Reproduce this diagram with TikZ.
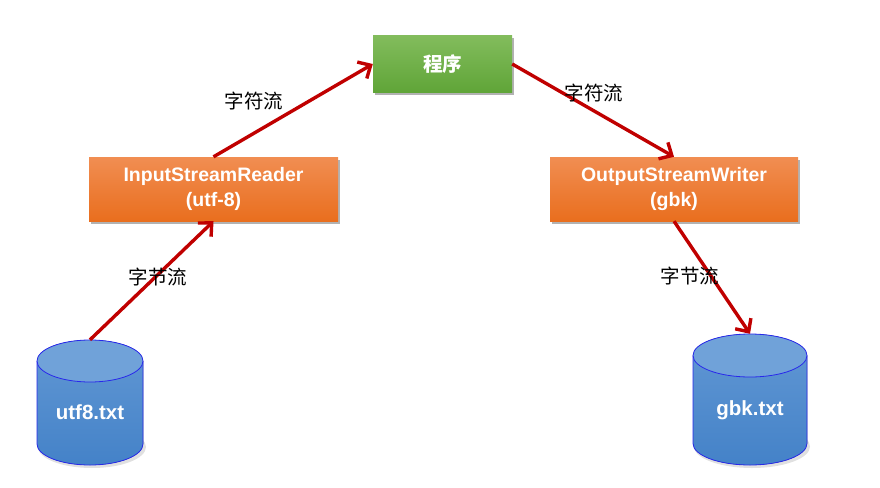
\documentclass[tikz,border=0pt]{standalone}
\usepackage{fontspec}
\setmainfont{Liberation Sans}
\newfontfamily\cjk{Noto Sans CJK SC}
\usetikzlibrary{arrows.meta,shadows}
\definecolor{grTop}{RGB}{130,188,92}
\definecolor{grBot}{RGB}{96,165,56}
\definecolor{orTop}{RGB}{241,142,82}
\definecolor{orBot}{RGB}{233,110,30}
\definecolor{cyLid}{RGB}{112,162,217}
\definecolor{cyTop}{RGB}{98,152,212}
\definecolor{cyBot}{RGB}{68,130,200}
\definecolor{cyEdge}{RGB}{40,40,235}
\definecolor{arrRed}{RGB}{192,0,0}
\begin{document}
\begin{tikzpicture}[x=1pt,y=-1pt,
  boxbase/.style={inner sep=0pt, text=white, align=center,
    font=\fontsize{19.5}{25}\selectfont\bfseries,
    drop shadow={shadow xshift=1.5pt, shadow yshift=-2.5pt, opacity=0.3, fill=black}},
  greenbox/.style={boxbase, top color=grTop, bottom color=grBot},
  orangebox/.style={boxbase, top color=orTop, bottom color=orBot},
  dbtext/.style={text=white, font=\fontsize{20.5}{24}\selectfont\bfseries, inner sep=0pt},
  dbframe/.style={inner sep=0pt},
  flow/.style={draw=arrRed, line width=3.4pt, -{Straight Barb[length=10pt,width=19pt]}},
  flowlabel/.style={font=\cjk\fontsize{19.5}{22}\selectfont, text=black, inner sep=0pt}
]
\useasboundingbox (0,0) rectangle (880,487);

% boxes
\node[greenbox, minimum width=139pt, minimum height=56pt] (prog) at (442.5,64) {\cjk\bfseries 程序};
\node[orangebox, minimum width=249pt, minimum height=64pt] (isr) at (213.5,189) {InputStreamReader\\(utf-8)};
\node[orangebox, minimum width=248pt, minimum height=64pt] (osw) at (674,189) {OutputStreamWriter\\(gbk)};

% cylinder 1
\fill[black, opacity=0.12] (92,447) ellipse[x radius=54, y radius=21];
\fill[top color=cyTop, bottom color=cyBot] (37,361) -- (37,444)
  arc[start angle=180, end angle=0, x radius=53, y radius=21] -- (143,361)
  arc[start angle=0, end angle=-180, x radius=53, y radius=21] -- cycle;
\draw[cyEdge, line width=0.8pt] (37,361) -- (37,444)
  arc[start angle=180, end angle=0, x radius=53, y radius=21] -- (143,361);
\filldraw[fill=cyLid, draw=cyEdge, line width=0.8pt] (90,361) ellipse[x radius=53, y radius=21];
\node[dbframe, minimum width=106pt, minimum height=125pt] (db1) at (90,402.5) {};
\node[dbtext] (t1) at (90,412) {utf8.txt};

% cylinder 2
\fill[black, opacity=0.12] (752,446.5) ellipse[x radius=58, y radius=21.5];
\fill[top color=cyTop, bottom color=cyBot] (693,355.5) -- (693,443.5)
  arc[start angle=180, end angle=0, x radius=57, y radius=21.5] -- (807,355.5)
  arc[start angle=0, end angle=-180, x radius=57, y radius=21.5] -- cycle;
\draw[cyEdge, line width=0.8pt] (693,355.5) -- (693,443.5)
  arc[start angle=180, end angle=0, x radius=57, y radius=21.5] -- (807,355.5);
\filldraw[fill=cyLid, draw=cyEdge, line width=0.8pt] (750,355.5) ellipse[x radius=57, y radius=21.5];
\node[dbframe, minimum width=114pt, minimum height=131pt] (db2) at (750,399.5) {};
\node[dbtext] (t2) at (750,410) {gbk.txt};

% arrows
\draw[flow] (db1.north) -- (isr.south);
\draw[flow] (isr.north) -- (prog.west);
\draw[flow] (prog.east) -- (osw.north);
\draw[flow] (osw.south) -- (db2.north);

% labels
\node[flowlabel] (l1) at (254,101) {字符流};
\node[flowlabel] (l2) at (158,277) {字节流};
\node[flowlabel] (l3) at (594,93) {字符流};
\node[flowlabel] (l4) at (690,276) {字节流};
\end{tikzpicture}
\end{document}
